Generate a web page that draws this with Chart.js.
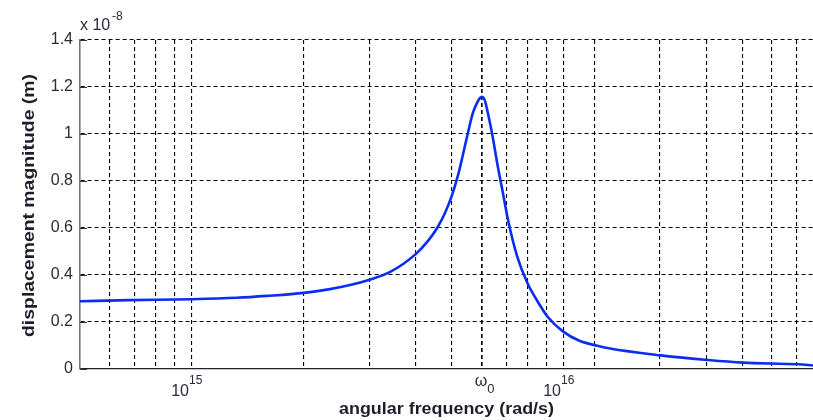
<!DOCTYPE html>
<html>
<head>
<meta charset="utf-8">
<script src="https://cdn.jsdelivr.net/npm/chart.js@4/dist/chart.umd.min.js"></script>
<style>
html, body { margin: 0; padding: 0; background: #fff; }
#wrap { width: 813px; height: 420px; }
</style>
</head>
<body>
<div id="wrap"><canvas id="c" width="813" height="420"></canvas></div>
<script>
// angular frequency (rad/s)
const omega = [5.0e14, 6.8e14, 1.0e15, 1.32e15, 1.59e15, 2.0e15, 2.35e15, 2.66e15, 3.0e15,
	3.41e15, 4.0e15, 4.31e15, 4.56e15, 4.79e15, 5.0e15, 5.19e15, 5.32e15, 5.49e15, 5.69e15,
	5.87e15, 5.94e15, 6.03e15, 6.10e15, 6.17e15, 6.25e15, 6.41e15, 6.65e15, 6.86e15, 7.07e15,
	7.48e15, 7.96e15, 8.46e15, 9.06e15, 9.93e15, 1.10e16, 1.23e16, 1.33e16, 1.82e16, 2.44e16,
	3.03e16, 4.26e16, 4.67e16];
// displacement magnitude, units of 1e-8 m
const displacement = [0.288, 0.293, 0.297, 0.303, 0.311, 0.324, 0.340, 0.357, 0.380,
	0.413, 0.490, 0.545, 0.600, 0.665, 0.740, 0.825, 0.895, 0.990, 1.090,
	1.140, 1.153, 1.158, 1.150, 1.125, 1.085, 1.000, 0.855, 0.745, 0.635,
	0.480, 0.368, 0.292, 0.220, 0.160, 0.120, 0.099, 0.087, 0.058, 0.038,
	0.027, 0.020, 0.015];

const W0 = 6.03e15; // resonance
// vertical grid lines (log minor grid + multiples of w0 on the right)
const xGrid = [6e14, 7e14, 8e14, 9e14, 1e15, 2e15, 3e15, 4e15, 5e15, 6e15, W0, 7e15, 8e15, 9e15,
	1e16, 1.21e16, 1.81e16, 2.41e16, 3.02e16, 3.62e16, 4.22e16];
const xLabelValues = [1e15, W0, 1e16];
const xLabelBase = ['10', '\u03c9', '10'];
const xLabelScript = ['15', '0', '16'];
const yMin = 0, yMax = 1.4, yStep = 0.2;

const textCol = '#2a2a3a';

// текст с растяжкой по ширине
function fitText(ctx, txt, x, y, w){
	const m = ctx.measureText(txt).width;
	ctx.save();
	ctx.translate(x, y);
	ctx.scale(w / m, 1);
	ctx.textAlign = 'center';
	ctx.fillText(txt, 0, 0);
	ctx.restore();
}

const decor = {
	id: 'decor',
	afterDraw(chart){
		const ctx = chart.ctx;
		const xs = chart.scales.x, ys = chart.scales.y;
		const a = chart.chartArea;
		ctx.save();
		// короткие засечки внутри по оси y
		ctx.strokeStyle = '#333';
		ctx.lineWidth = 1;
		ys.ticks.forEach(t => {
			const py = Math.round(ys.getPixelForValue(t.value)) + 0.5;
			ctx.beginPath();
			ctx.moveTo(a.left, py);
			ctx.lineTo(a.left + 7, py);
			ctx.stroke();
		});
		// подписи оси x
		ctx.fillStyle = textCol;
		ctx.textBaseline = 'alphabetic';
		xLabelValues.forEach((v, i) => {
			const px = xs.getPixelForValue(v);
			if (xLabelBase[i] === '10'){
				ctx.font = '16px "Liberation Sans", Arial, sans-serif';
				ctx.textAlign = 'right';
				ctx.fillText('10', px - 3, 396);
				ctx.font = '12px "Liberation Sans", Arial, sans-serif';
				ctx.textAlign = 'left';
				ctx.fillText(xLabelScript[i], px - 3, 384);
			} else {
				ctx.font = '16px "Liberation Sans", Arial, sans-serif';
				ctx.textAlign = 'right';
				ctx.fillText(xLabelBase[i], px + 5, 386);
				ctx.font = '13px "Liberation Sans", Arial, sans-serif';
				ctx.textAlign = 'left';
				ctx.fillText(xLabelScript[i], px + 5, 393);
			}
		});
		// множитель
		ctx.font = '16px "Liberation Sans", Arial, sans-serif';
		ctx.textAlign = 'left';
		ctx.fillText('x 10', a.left, 30);
		ctx.font = '12px "Liberation Sans", Arial, sans-serif';
		ctx.fillText('-8', a.left + 32, 20);
		// заголовки осей
		ctx.fillStyle = '#1e1e2a';
		ctx.font = 'bold 16px "Liberation Sans", Arial, sans-serif';
		fitText(ctx, 'angular frequency (rad/s)', (a.left + a.right) / 2, 414, 215);
		ctx.save();
		ctx.translate(34, (a.top + a.bottom) / 2 + 1);
		ctx.rotate(-Math.PI / 2);
		fitText(ctx, 'displacement magnitude (m)', 0, 0, 263);
		ctx.restore();
		ctx.restore();
	}
};

new Chart(document.getElementById('c'), {
	type: 'line',
	data: {
		datasets: [{
			data: omega.map((w, i) => ({x: w, y: displacement[i]})),
			borderColor: '#0b2df2',
			borderWidth: 2.6,
			pointRadius: 0,
			fill: false,
			cubicInterpolationMode: 'monotone'
		}]
	},
	options: {
		responsive: false,
		animation: false,
		devicePixelRatio: 1,
		layout: {padding: {top: 40, left: 0, right: 0, bottom: 0}},
		plugins: {legend: {display: false}, tooltip: {enabled: false}},
		scales: {
			x: {
				type: 'logarithmic',
				min: 5e14,
				max: 4.67e16,
				afterBuildTicks: s => { s.ticks = xGrid.map(v => ({value: v})); },
				afterFit: s => { s.height = 51; },
				ticks: {display: false},
				grid: {
					color: '#000',
					lineWidth: c => (c.tick && c.tick.value === W0) ? 1.6 : 1.1,
					drawTicks: false
				},
				border: {display: true, color: '#222', width: 1.3, dash: [4, 3]}
			},
			y: {
				type: 'linear',
				min: yMin,
				max: yMax,
				afterFit: s => { s.width = 80; },
				ticks: {
					stepSize: yStep,
					padding: 7,
					color: textCol,
					font: {family: '"Liberation Sans", Arial, sans-serif', size: 16},
					callback: v => String(+v.toFixed(1))
				},
				grid: {color: '#000', lineWidth: 1.1, drawTicks: false},
				border: {display: true, color: '#777', width: 1.6, dash: [4, 3]}
			}
		}
	},
	plugins: [decor]
});
</script>
</body>
</html>
